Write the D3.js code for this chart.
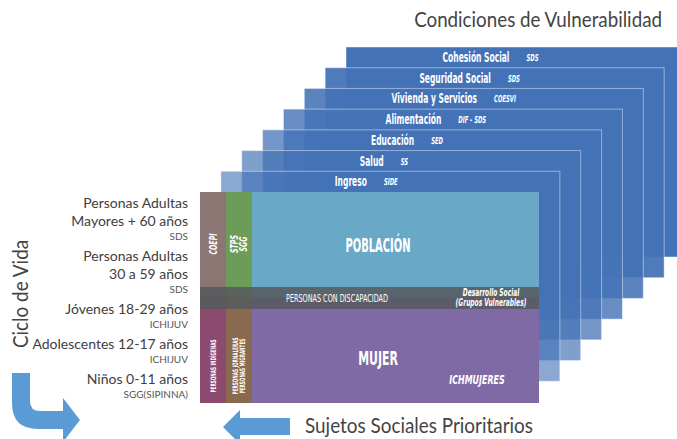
<!DOCTYPE html>
<html>
<head>
<meta charset="utf-8">
<script src="https://cdn.jsdelivr.net/npm/d3@7"></script>
<style>
  body { margin: 0; background: #fff; }
  svg { display: block; }
  .cond { font-family: "Liberation Sans Narrow", "DejaVu Sans Condensed", "Roboto", sans-serif; fill: #fff; }
  .reg { font-family: "Lato", "Noto Sans", sans-serif; }
</style>
</head>
<body>
<div id="chart"></div>
<script>
// Data ------------------------------------------------------------------------------------------------
const conditions = ["Ingreso", "Salud", "Educación", "Alimentación", "Vivienda y Servicios", "Seguridad Social", "Cohesión Social"];
const conditionAgencies = ["SIDE", "SS", "SED", "DIF - SDS", "COESVI", "SDS", "SDS"];

const lifeStages = [["Personas Adultas", "Mayores + 60 años"], ["Personas Adultas", "30 a 59 años"], ["Jóvenes 18-29 años"], ["Adolescentes 12-17 años"], ["Niños 0-11 años"]];
const lifeAgencies = ["SDS", "SDS", "ICHIJUV", "ICHIJUV", "SGG(SIPINNA)"];

const upperGroups = [["COEPI"], ["STPS", "SGG"], ["POBLACIÓN"]];
const lowerGroups = [["PERSONAS INDÍGENAS"], ["PERSONAS JORNALERAS", "PERSONAS MIGRANTES"], ["MUJER"]];
const bandLabel = "PERSONAS CON DISCAPACIDAD";
const bandAgency = ["Desarrollo Social", "(Grupos Vulnerables)"];
const womenAgency = "ICHMUJERES";

const titleTop = "Condiciones de Vulnerabilidad";
const titleLeft = "Ciclo de Vida";
const titleBottom = "Sujetos Sociales Prioritarios";

// Dimensions -------------------------------------------------------------------------------------------
const width = 677, height = 439;
const blockX = 200, blockY = 192, blockW = 339, blockH = 211;

const svg = d3.select("#chart").append("svg")
  .attr("width", width)
  .attr("height", height);

// text placed by transform, squeezed horizontally by k (fake condensed face)
const addText = (parent, x, y, txt, o) => parent.append("text")
  .attr("class", o.cls || "cond")
  .attr("transform", `translate(${x},${y})${o.rot ? ` rotate(${o.rot})` : ""} scale(${o.k || 1},1)`)
  .attr("text-anchor", o.anchor || "middle")
  .attr("dy", o.dy || null)
  .attr("font-size", o.size)
  .attr("font-weight", o.bold ? "bold" : null)
  .attr("font-style", o.italic ? "italic" : null)
  .attr("fill", o.fill || null)
  .text(txt);

// Panels ------------------------------------------------------------------------------------------------
const xL = d3.scaleLinear().domain([0, conditions.length]).range([blockX, 346]);
const yT = d3.scaleLinear().domain([0, conditions.length]).range([blockY, 47]);
const opac = d3.scaleLinear().domain([1, conditions.length]).range([0.62, 1]);

const panelData = conditions.map((c, i) => ({name: c, agency: conditionAgencies[i], k: i + 1})).reverse();

const panels = svg.append("g").selectAll("g")
  .data(panelData)
  .join("g");

panels.append("rect")
  .attr("x", d => xL(d.k))
  .attr("y", d => yT(d.k))
  .attr("width", blockW)
  .attr("height", blockH - 1)
  .attr("fill", "#4472b6")
  .attr("fill-opacity", d => opac(d.k))
  .attr("stroke", "#fff")
  .attr("stroke-opacity", 0.45);

panels.each(function(d) {
  const g = d3.select(this);
  const cx = xL(d.k) + 130;
  const t = addText(g, cx, yT(d.k) + 15, d.name, {size: 14, bold: true, k: 0.6});
  const w = t.node().getComputedTextLength() * 0.6;
  addText(g, cx + w / 2 + 17, yT(d.k) + 14, d.agency, {size: 9.5, bold: true, italic: true, k: 0.62, anchor: "start"});
});

// Front block ---------------------------------------------------------------------------------------------
const colEdges = [0, 26, 52, blockW];
const splitY = 105;
const upperColors = ["#8b7674", "#6c9c57", "#6aa8c8"];
const lowerColors = ["#8d4a6f", "#8a6a4f", "#806aa6"];

const block = svg.append("g").attr("transform", `translate(${blockX},${blockY})`);

block.selectAll(".up")
  .data(upperGroups)
  .join("rect")
  .attr("class", "up")
  .attr("x", (d, i) => colEdges[i])
  .attr("y", 0)
  .attr("width", (d, i) => colEdges[i + 1] - colEdges[i])
  .attr("height", splitY)
  .attr("fill", (d, i) => upperColors[i]);

block.selectAll(".low")
  .data(lowerGroups)
  .join("rect")
  .attr("class", "low")
  .attr("x", (d, i) => colEdges[i])
  .attr("y", splitY)
  .attr("width", (d, i) => colEdges[i + 1] - colEdges[i])
  .attr("height", blockH - splitY)
  .attr("fill", (d, i) => lowerColors[i]);

// disability band
block.append("rect")
  .attr("x", 0)
  .attr("y", splitY - 10)
  .attr("width", blockW)
  .attr("height", 22)
  .attr("fill", "#55595d")
  .attr("fill-opacity", 0.85);

// vertical labels in narrow columns
const vertLabels = (groups, midY, size, italic, k) => {
  groups.slice(0, 2).forEach((lines, i) => {
    const cx = (colEdges[i] + colEdges[i + 1]) / 2;
    lines.forEach((line, j) => {
      const off = (j - (lines.length - 1) / 2) * size * 0.95;
      addText(block, cx + off, midY, line, {rot: -90, size: size, bold: true, italic: italic, k: k, dy: "0.35em"});
    });
  });
};
vertLabels(upperGroups, 52, 10, true, 0.7);
vertLabels(lowerGroups, 174, 7.5, false, 0.62);

// big labels
addText(block, 178, 53, upperGroups[2][0], {size: 19, bold: true, k: 0.58, dy: "0.35em"});
addText(block, 178, 166, lowerGroups[2][0], {size: 19, bold: true, k: 0.64, dy: "0.35em"});
addText(block, 277, 187, womenAgency, {size: 13, bold: true, italic: true, k: 0.68, dy: "0.35em"});
addText(block, 137, 106, bandLabel, {size: 10, k: 0.72, dy: "0.35em"});
bandAgency.forEach((line, i) => {
  addText(block, 291, 100 + i * 10.5, line, {size: 10, bold: true, italic: true, k: 0.66, dy: "0.35em"});
});

// Life cycle labels ------------------------------------------------------------------------------------
const lifeG = svg.append("g").attr("class", "reg");
let ly = 208;
lifeStages.forEach((lines, i) => {
  lines.forEach((line, j) => {
    if (j > 0) ly += 18;
    lifeG.append("text")
      .attr("x", 188).attr("y", ly)
      .attr("text-anchor", "end")
      .attr("font-size", 14)
      .attr("fill", "#404040")
      .text(line);
  });
  ly += 14;
  lifeG.append("text")
    .attr("x", 188).attr("y", ly)
    .attr("text-anchor", "end")
    .attr("font-size", 10)
    .attr("fill", "#555")
    .text(lifeAgencies[i]);
  ly += 21;
});

// Titles -------------------------------------------------------------------------------------------------
addText(svg, 662, 27, titleTop, {cls: "reg", anchor: "end", size: 21, fill: "#444", k: 0.895});
addText(svg, 28, 294, titleLeft, {cls: "reg", rot: -90, size: 21, fill: "#444", k: 0.9});
addText(svg, 305, 433, titleBottom, {cls: "reg", anchor: "start", size: 21, fill: "#444", k: 0.9});

// Arrows -------------------------------------------------------------------------------------------------
const arrowColor = "#5b9bd5";

const bend = d3.path();
bend.moveTo(12, 373);
bend.lineTo(30, 373);
bend.lineTo(30, 401);
bend.quadraticCurveTo(30, 411, 40, 411);
bend.lineTo(63, 411);
bend.lineTo(63, 398);
bend.lineTo(80, 420);
bend.lineTo(63, 442);
bend.lineTo(63, 429);
bend.lineTo(38, 429);
bend.quadraticCurveTo(12, 429, 12, 403);
bend.closePath();
svg.append("path").attr("d", bend.toString()).attr("fill", arrowColor);

const left = d3.path();
left.moveTo(290, 418);
left.lineTo(240, 418);
left.lineTo(240, 410);
left.lineTo(223, 427);
left.lineTo(240, 444);
left.lineTo(240, 435);
left.lineTo(290, 435);
left.closePath();
svg.append("path").attr("d", left.toString()).attr("fill", arrowColor);
</script>
</body>
</html>
